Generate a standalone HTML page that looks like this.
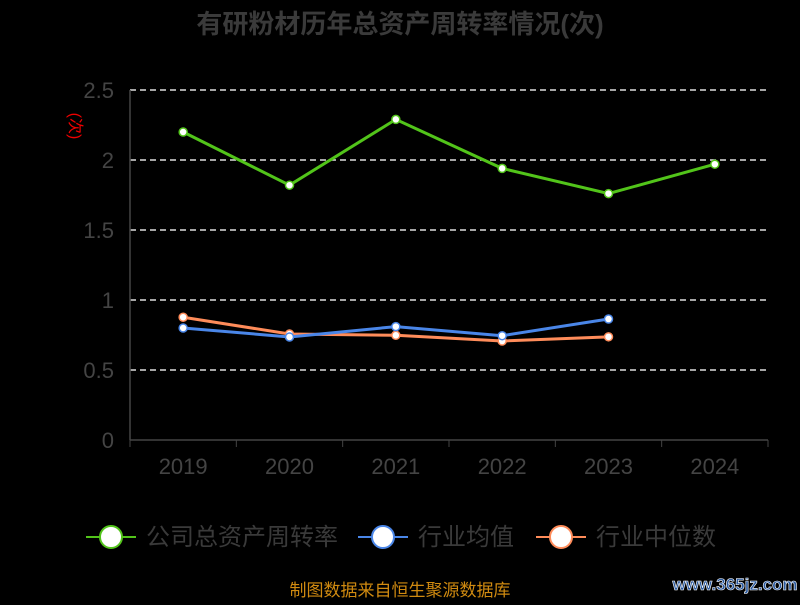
<!DOCTYPE html>
<html><head><meta charset="utf-8"><style>
body{margin:0;background:#000;width:800px;height:600px;overflow:hidden;font-family:"Liberation Sans","Noto Sans CJK SC",sans-serif}
</style></head><body>
<svg id="c" width="800" height="600" xmlns="http://www.w3.org/2000/svg">
<text x="400" y="33" text-anchor="middle" font-size="26" font-weight="bold" fill="#3a3a3a" font-family="Liberation Sans,Noto Sans CJK SC,sans-serif">有研粉材历年总资产周转率情况(次)</text>
<text transform="translate(70,126) rotate(90)" font-size="16" fill="#e00" text-anchor="middle" font-family="Liberation Sans,Noto Sans CJK SC,sans-serif">(次)</text>
<text x="400" y="596" text-anchor="middle" font-size="17" fill="#d08a10" font-family="Liberation Sans,Noto Sans CJK SC,sans-serif">制图数据来自恒生聚源数据库</text>
<text x="735" y="590" text-anchor="middle" font-size="17" font-weight="bold" fill="#2a5aa0" stroke="#fff" stroke-width="0.6">www.365jz.com</text>
<g id="g"></g>
</svg>
<script>
const categories=["2019","2020","2021","2022","2023","2024"];
const companyValues=[2.2,1.82,2.29,1.94,1.76,1.97];
const industryAvg=[0.80,0.736,0.81,0.745,0.864];
const industryMedian=[0.877,0.757,0.748,0.707,0.737];
const yTicks=[0,0.5,1,1.5,2,2.5];
const seriesNames=["公司总资产周转率","行业均值","行业中位数"];
const NS="http://www.w3.org/2000/svg";
const g=document.getElementById('g');
const x0=130,x1=768,y0=440,yTop=90,yMax=2.5;
const bw=(x1-x0)/categories.length;
const xs=i=>x0+bw*(i+0.5);
const ys=v=>y0-(v/yMax)*(y0-yTop);
function mk(t,a){const e=document.createElementNS(NS,t);for(const k in a)e.setAttribute(k,a[k]);g.appendChild(e);return e;}
yTicks.forEach(v=>{
 if(v>0){const l=mk('line',{x1:x0,x2:x1,y1:ys(v),y2:ys(v),stroke:'#ddd','stroke-dasharray':'6,4','stroke-width':1.5});
 
 }
 const t=mk('text',{x:x0-16,y:ys(v)+8,'text-anchor':'end','font-size':22,fill:'#444'});t.textContent=v;
 
 
});
const ax=mk('line',{x1:x0,x2:x0,y1:yTop,y2:y0,stroke:'#444','stroke-width':1.5});


const bx=mk('line',{x1:x0,x2:x1,y1:y0,y2:y0,stroke:'#444','stroke-width':1.5});


categories.forEach((c,i)=>{
 const tk=mk('line',{x1:x0+bw*i,x2:x0+bw*i,y1:y0,y2:y0+7,stroke:'#444'});
 
 
 const t=mk('text',{x:xs(i),y:y0+34,'text-anchor':'middle','font-size':22,fill:'#444'});t.textContent=c;
 
 
});
const tk2=mk('line',{x1:x1,x2:x1,y1:y0,y2:y0+7,stroke:'#444'});


function series(vals,color,name){
 const pts=vals.map((v,i)=>xs(i)+','+ys(v)).join(' ');
 const pl=mk('polyline',{points:pts,fill:'none',stroke:color,'stroke-width':3});
 
 
 vals.forEach((v,i)=>{const c=mk('circle',{cx:xs(i),cy:ys(v),r:4,fill:'#fff',stroke:color,'stroke-width':1.5});
 
 });
}
series(industryMedian,'#ff8c5a','industry-median');
series(industryAvg,'#4a86e8','industry-average');
series(companyValues,'#52c41a','company-turnover');
const leg=[[86,'#52c41a',seriesNames[0],'legend-company'],[358,'#4a86e8',seriesNames[1],'legend-industry-average'],[536,'#ff8c5a',seriesNames[2],'legend-industry-median']];
leg.forEach(([lx,col,txt,nm])=>{
 const l=mk('line',{x1:lx,x2:lx+50,y1:537,y2:537,stroke:col,'stroke-width':2});
 
 
 const c=mk('circle',{cx:lx+25,cy:537,r:11,fill:'#fff',stroke:col,'stroke-width':2});
 
 
 const t=mk('text',{x:lx+60,y:545,'font-size':24,fill:'#3a3a3a'});t.textContent=txt;
 
 
});
</script>
</body></html>
